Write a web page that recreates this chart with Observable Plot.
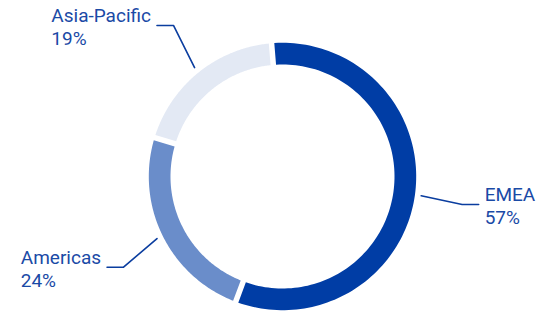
<!DOCTYPE html>
<html><head><meta charset="utf-8">
<script src="https://cdn.jsdelivr.net/npm/d3@7"></script>
<script src="https://cdn.jsdelivr.net/npm/@observablehq/plot@0.6"></script>
<style>html,body{margin:0;padding:0;background:#fff}#chart{width:536px;height:312px}</style>
</head><body><div id="chart"></div>
<script>
// ---- data ----
const regions = ["EMEA", "Americas", "Asia-Pacific"];
const shares = [57, 24, 19];
const pctLabels = ["57%", "24%", "19%"];
const colors = ["#003da5", "#6a8dca", "#e3e9f4"];

// ---- layout ----
const W = 536, H = 312, CX = 282, CY = 176;
const R_OUT = 133.7, R_IN = 112, GAP = 5.5, START_DEG = -4.7;
const LEAD_R0 = 140, LEAD_R1 = 183, HSEG = 16.5, TEXT_GAP = 6;
const nudges = [[-1.6, 2.9], [5.1, 9.6], [5.9, -8.6]];
const FONT_SIZE = 19, FONT_FAMILY = "Roboto", LINE_STEP = 23;
const TEXT_COLOR = "#1a4aa6", LINE_COLOR = "#0a3d9f";

const total = d3.sum(shares);
const rad = d => d * Math.PI / 180;
const pt = (r, a) => ({x: r * Math.sin(a), y: -r * Math.cos(a)});

const ctx = document.createElement("canvas").getContext("2d");
ctx.font = `${FONT_SIZE}px '${FONT_FAMILY}'`;
const tw = s => ctx.measureText(s).width;

let cum = 0;
const segs = regions.map((name, i) => {
  const a0 = rad(START_DEG + cum / total * 360);
  cum += shares[i];
  const a1 = rad(START_DEG + cum / total * 360);
  return {name, i, a0, a1, mid: (a0 + a1) / 2};
});

const marks = [];
const N = 120;
for (const s of segs) {
  const poly = [];
  const o0 = s.a0 + GAP / 2 / R_OUT, o1 = s.a1 - GAP / 2 / R_OUT;
  const i0 = s.a0 + GAP / 2 / R_IN, i1 = s.a1 - GAP / 2 / R_IN;
  for (let k = 0; k <= N; k++) poly.push(pt(R_OUT, o0 + (o1 - o0) * k / N));
  for (let k = N; k >= 0; k--) poly.push(pt(R_IN, i0 + (i1 - i0) * k / N));
  marks.push(Plot.line(poly, {x: "x", y: "y", fill: colors[s.i], stroke: "none", curve: "linear-closed"}));
}

const leaders = [];
const labels = [];
for (const s of segs) {
  const p0 = pt(LEAD_R0, s.mid);
  const e = pt(LEAD_R1, s.mid);
  e.x += nudges[s.i][0]; e.y += nudges[s.i][1];
  const right = Math.sin(s.mid) > 0;
  const p2 = {x: e.x + (right ? HSEG : -HSEG), y: e.y};
  leaders.push({k: s.i, ...p0}, {k: s.i, ...e}, {k: s.i, ...p2});
  const w = Math.max(tw(s.name), tw(pctLabels[s.i]));
  const left = right ? p2.x + TEXT_GAP : p2.x - TEXT_GAP - w;
  const base = e.y - 3.5;
  labels.push({x: left, y: base + LINE_STEP, t: s.name + "\n" + pctLabels[s.i]});
}
marks.push(Plot.line(leaders, {x: "x", y: "y", z: "k", stroke: LINE_COLOR, strokeWidth: 1.6}));
marks.push(Plot.text(labels, {x: "x", y: "y", text: "t", textAnchor: "start", lineAnchor: "bottom",
  lineHeight: LINE_STEP / FONT_SIZE, fill: TEXT_COLOR, fontSize: FONT_SIZE, fontFamily: FONT_FAMILY}));

const chart = Plot.plot({
  width: W, height: H, margin: 0,
  x: {domain: [-CX, W - CX], range: [0, W], axis: null},
  y: {domain: [-CY, H - CY], range: [0, H], axis: null},
  style: {background: "#fff", fontFamily: FONT_FAMILY},
  marks
});
document.getElementById("chart").append(chart);
</script>
</body></html>
